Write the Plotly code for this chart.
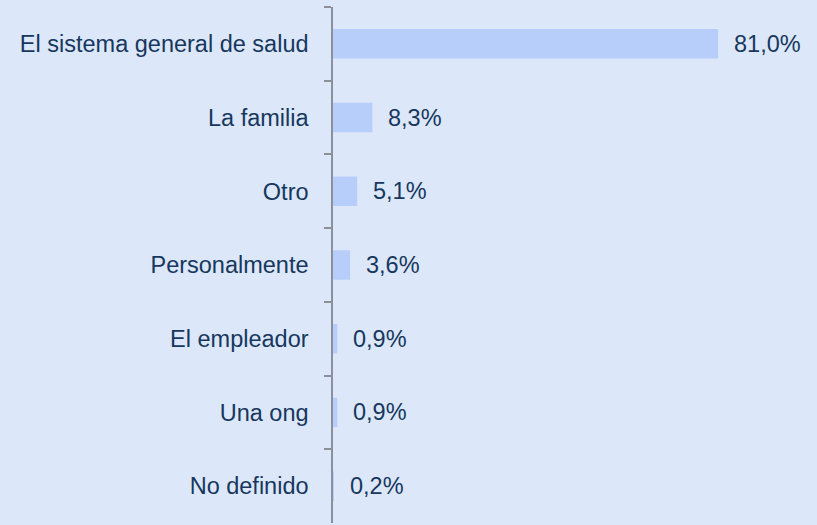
import plotly.graph_objects as go

categories = ["El sistema general de salud", "La familia", "Otro", "Personalmente",
              "El empleador", "Una ong", "No definido"]
values = [81.0, 8.3, 5.1, 3.6, 0.9, 0.9, 0.2]
labels = ["81,0%", "8,3%", "5,1%", "3,6%", "0,9%", "0,9%", "0,2%"]

BG = "#dce8f9"
BAR = "#b8cefa"
TXT = "#17375e"
AX = "#8c909c"
FONT = "Liberation Sans, Arial, sans-serif"

fig = go.Figure()
fig.add_trace(go.Bar(
    x=values, y=categories, orientation="h",
    marker=dict(color=BAR, line=dict(width=0)),
    width=0.4, hoverinfo="skip",
))

for v, c, t in zip(values, categories, labels):
    fig.add_annotation(x=v, y=c, text=t, showarrow=False, xanchor="left",
                       xshift=14, font=dict(family=FONT, size=23.5, color=TXT))

fig.update_layout(
    width=817, height=525,
    margin=dict(l=333, r=0, t=7, b=2),
    paper_bgcolor=BG, plot_bgcolor=BG,
    showlegend=False,
    font=dict(family=FONT, size=23.5, color=TXT),
    xaxis=dict(range=[0, 101.8], visible=False, fixedrange=True),
    yaxis=dict(
        autorange=False, range=[6.5, -0.5], fixedrange=True,
        categoryorder="array", categoryarray=categories,
        showline=True, linecolor=AX, linewidth=1.5,
        ticks="outside", ticklen=7, tickcolor=AX, tickwidth=1.5,
        tickson="boundaries", showgrid=False, zeroline=False,
        ticklabelstandoff=18,
        tickfont=dict(family=FONT, size=23.5, color=TXT),
    ),
)

fig.write_html("out.html", config={"displayModeBar": False},
               post_script="document.body.style.margin='0';document.body.style.background='" + BG + "';")
